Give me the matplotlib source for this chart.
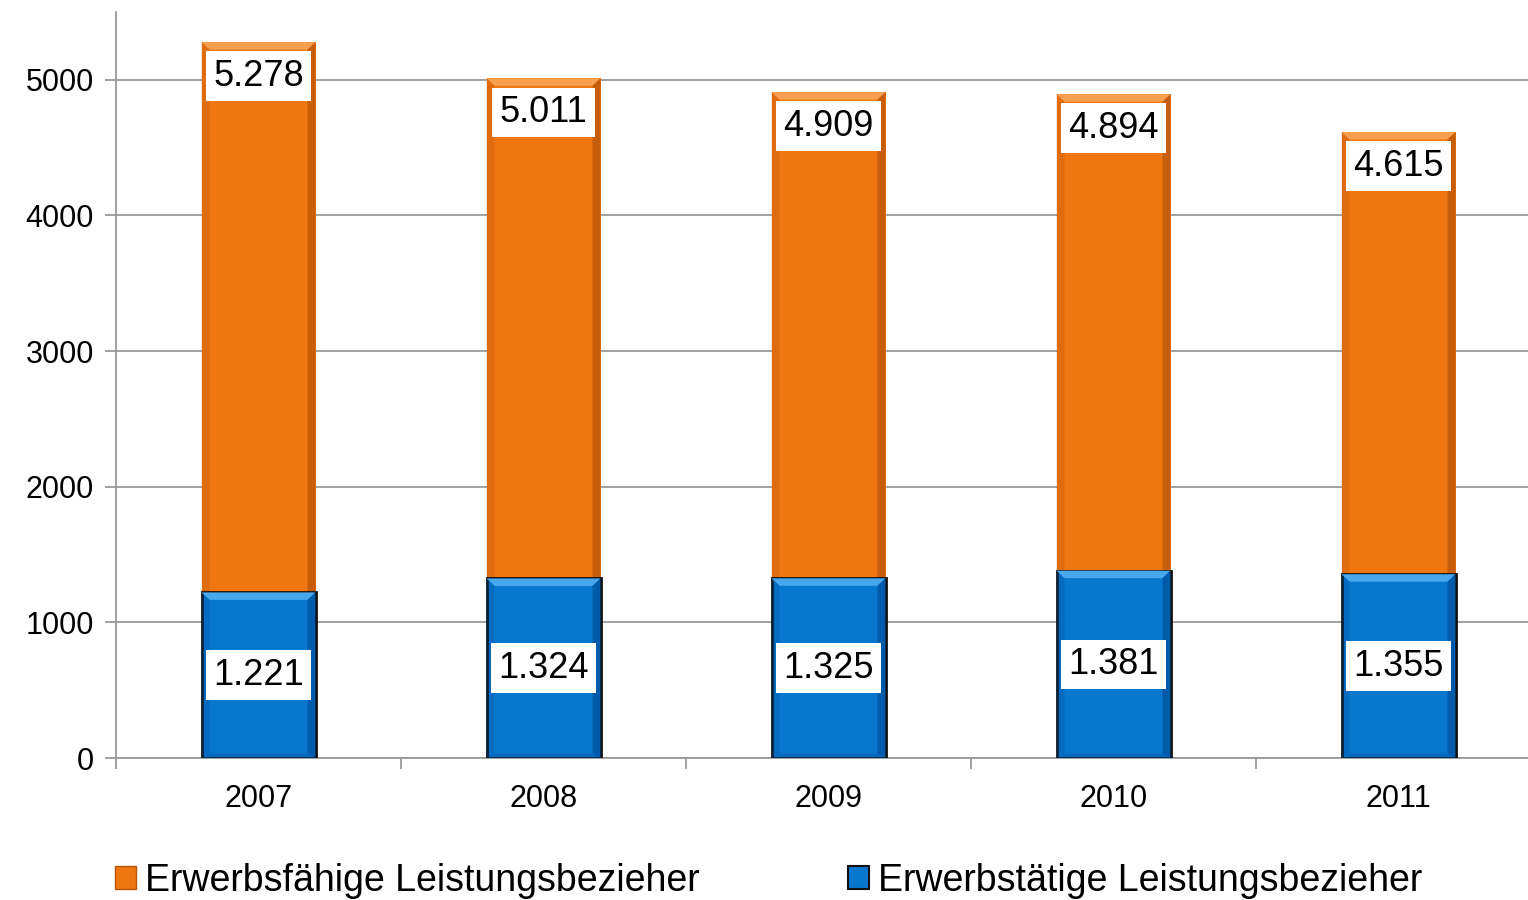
import matplotlib
matplotlib.use("Agg")
import matplotlib.pyplot as plt
from matplotlib.patches import Polygon, Patch

plt.rcParams['font.family'] = ['Liberation Sans', 'DejaVu Sans']

years = ["2007", "2008", "2009", "2010", "2011"]
erwerbsfaehige = [5278, 5011, 4909, 4894, 4615]
erwerbstaetige = [1221, 1324, 1325, 1381, 1355]
label_fmt = lambda v: f"{v/1000:.3f}"

orange = "#F07612"
orange_light = "#F8A050"
orange_dark = "#B8560A"
blue = "#0878CE"
blue_light = "#48A8EE"
blue_dark = "#0050A0"

fig = plt.figure(figsize=(15.28, 9.0), dpi=100)
ax = fig.add_axes([116/1528, 1 - 758/900, 1425/1528, (758 - 12)/900])

ax.set_xlim(-0.5, len(years) - 0.5)
ax.set_ylim(0, 5500)

width = 0.4
x = list(range(len(years)))


def bevel(ax, xc, top, w, base, light, dark, z, bx=0.028, by=55):
    """Draw a simple bevel frame on a bar."""
    l, r = xc - w / 2, xc + w / 2
    top_poly = [(l, top), (r, top), (r - bx, top - by), (l + bx, top - by)]
    right_poly = [(r, top), (r, base), (r - bx, base + by * 0.6), (r - bx, top - by)]
    left_poly = [(l, top), (l + bx, top - by), (l + bx, base + by * 0.6), (l, base)]
    bottom_poly = [(l, base), (l + bx, base + by * 0.6), (r - bx, base + by * 0.6), (r, base)]
    ax.add_patch(Polygon(top_poly, closed=True, facecolor=light, edgecolor='none', zorder=z))
    ax.add_patch(Polygon(right_poly, closed=True, facecolor=dark, edgecolor='none', zorder=z, alpha=0.75))
    ax.add_patch(Polygon(left_poly, closed=True, facecolor=dark, edgecolor='none', zorder=z, alpha=0.3))
    ax.add_patch(Polygon(bottom_poly, closed=True, facecolor=dark, edgecolor='none', zorder=z, alpha=0.4))


ax.bar(x, erwerbsfaehige, width=width, color=orange, zorder=3)
for xi, v in zip(x, erwerbsfaehige):
    bevel(ax, xi, v, width, 0, orange_light, orange_dark, 3.1)

ax.bar(x, erwerbstaetige, width=width, color=blue, edgecolor="#101010",
       linewidth=2, zorder=4)
for xi, v in zip(x, erwerbstaetige):
    bevel(ax, xi, v, width, 0, blue_light, blue_dark, 4.1)

box = dict(boxstyle="square,pad=0.2", facecolor="white", edgecolor="none")
for xi, v in zip(x, erwerbsfaehige):
    ax.annotate(label_fmt(v), xy=(xi, v), xytext=(0, -34), textcoords="offset pixels",
                ha="center", va="center", fontsize=26, color="black", bbox=box, zorder=6)
for xi, v in zip(x, erwerbstaetige):
    ax.text(xi, v / 2, label_fmt(v), ha="center", va="center", fontsize=26,
            color="black", bbox=box, zorder=6)

# axes styling
ax.set_yticks(range(0, 5001, 1000))
ax.yaxis.grid(True, color="#9a9a9a", linewidth=1.3, zorder=0)
ax.set_axisbelow(True)
ax.tick_params(axis="y", length=8, width=1.3, color="#9a9a9a", labelsize=22, pad=8,
               direction="out")
ax.set_xticks([i - 0.5 for i in range(len(years) + 1)], minor=False)
ax.set_xticklabels([])
ax.set_xticks(x, minor=True)
ax.set_xticklabels(years, minor=True, fontsize=22)
ax.tick_params(axis="x", which="major", length=8, width=1.3, color="#9a9a9a", direction="out")
ax.tick_params(axis="x", which="minor", length=0, pad=19)
for s in ["top", "right"]:
    ax.spines[s].set_visible(False)
for s in ["left", "bottom"]:
    ax.spines[s].set_color("#9a9a9a")
    ax.spines[s].set_linewidth(1.3)

handles = [Patch(facecolor=orange, edgecolor=orange_dark, linewidth=1),
           Patch(facecolor=blue, edgecolor="#101010", linewidth=1.5)]
fig.legend(handles, ["Erwerbsfähige Leistungsbezieher", "Erwerbstätige Leistungsbezieher"],
           loc="lower left", bbox_to_anchor=(89/1528, -0.028), ncol=2, frameon=False,
           fontsize=27, handlelength=0.55, handleheight=0.55, handletextpad=0.25,
           columnspacing=3.95, borderpad=0.2)

fig.savefig("out.png", dpi=100)
